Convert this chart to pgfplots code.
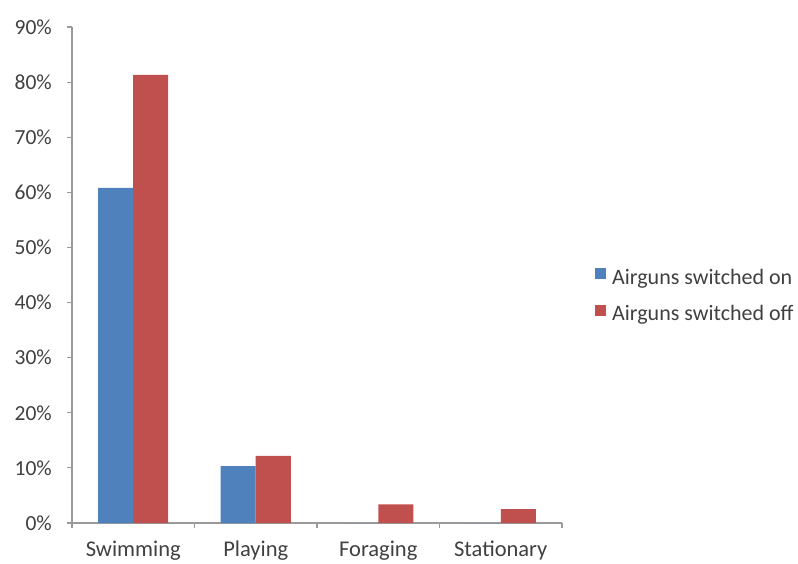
\documentclass[border=0pt]{standalone}
\usepackage{pgfplots}
\pgfplotsset{compat=1.18}
\usepackage{fontspec}
\setmainfont{Carlito}
\definecolor{obl}{HTML}{4F81BD}
\definecolor{ord}{HTML}{C0504D}
\definecolor{axg}{HTML}{9A9A9A}
\definecolor{txt}{HTML}{404040}
\begin{document}
\fontsize{21bp}{25bp}\selectfont
\begin{tikzpicture}
\useasboundingbox (-72bp,-41bp) rectangle (726bp,523bp);
\begin{axis}[
  scale only axis,
  width=490bp, height=496bp,
  ybar=0pt, bar width=35bp,
  xmin=-0.5, xmax=3.5, ymin=0, ymax=90,
  axis lines*=left,
  axis line style={axg, line width=1.2bp, -},
  tick style={axg, line width=1.2bp},
  tick align=outside,
  major tick length=5bp,
  xtick={-0.5,0.5,1.5,2.5,3.5}, xticklabels={},
  extra x ticks={0,1,2,3},
  extra x tick labels={Swimming,Playing,Foraging,Stationary},
  extra x tick style={major tick length=0pt, tick style={draw=none}},
  xticklabel style={font=\fontsize{22.5bp}{26bp}\selectfont, text=txt, yshift=-11bp},
  ytick={0,10,...,90},
  yticklabel={\pgfmathprintnumber{\tick}\%},
  yticklabel style={font=\fontsize{21.5bp}{25bp}\selectfont, text=txt, xshift=-8bp},
  /pgf/number format/assume math mode=true,
  legend style={at={(1,0.457)}, anchor=west, xshift=30bp, draw=none, fill=none,
    font=\fontsize{22bp}{26bp}\selectfont, text=txt, row sep=14bp,
    /tikz/every odd column/.append style={column sep=4bp}},
  legend cell align=left,
  legend image code/.code={\fill[#1] (0bp,-1bp) rectangle (11bp,10bp);},
]
\addplot[fill=obl, draw=none] coordinates {(0,60.8) (1,10.3) (2,0) (3,0)};
\addplot[fill=ord, draw=none] coordinates {(0,81.3) (1,12.2) (2,3.4) (3,2.5)};
\legend{Airguns switched on, Airguns switched off}
\end{axis}
\end{tikzpicture}
\end{document}
